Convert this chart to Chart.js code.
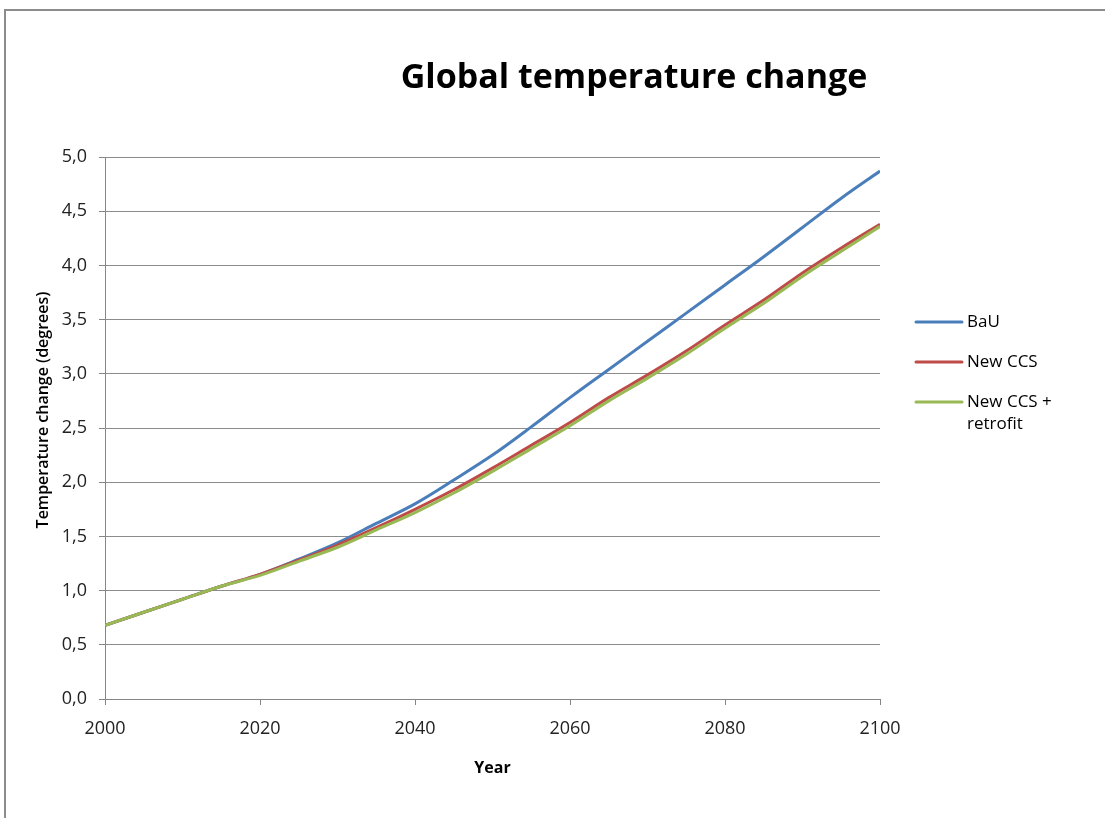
<!DOCTYPE html>
<html>
<head>
<meta charset="utf-8">
<script src="https://cdn.jsdelivr.net/npm/chart.js@4"></script>
<style>
  html, body { margin: 0; padding: 0; background: #fff; }
  #wrap { position: relative; width: 1105px; height: 818px; }
  #frame { position: absolute; left: 4px; top: 9px; right: -5px; bottom: -5px;
           border-left: 2px solid #8c8c8c; border-top: 2px solid #8c8c8c; }
  canvas { position: absolute; left: 0; top: 0; }
</style>
</head>
<body>
<div id="wrap">
  <div id="frame"></div>
  <canvas id="chart" width="1105" height="818"></canvas>
</div>
<script>
    // values, every 5 years
    const years = [2000, 2005, 2010, 2015, 2020, 2025, 2030, 2035, 2040, 2045, 2050,
                   2055, 2060, 2065, 2070, 2075, 2080, 2085, 2090, 2095, 2100];
    const bau = [0.68, 0.80, 0.92, 1.04, 1.15, 1.29, 1.44, 1.62, 1.80, 2.02, 2.25,
                 2.51, 2.78, 3.04, 3.30, 3.56, 3.82, 4.08, 4.35, 4.62, 4.87];
    const newCcs = [0.68, 0.80, 0.92, 1.04, 1.15, 1.28, 1.42, 1.58, 1.75, 1.93, 2.13,
                    2.34, 2.55, 2.78, 2.99, 3.21, 3.45, 3.68, 3.93, 4.16, 4.38];
    const newCcsRetrofit = [0.68, 0.80, 0.92, 1.04, 1.14, 1.27, 1.40, 1.56, 1.72, 1.90, 2.10,
                            2.31, 2.52, 2.75, 2.96, 3.18, 3.42, 3.65, 3.90, 4.13, 4.36];
    const seriesNames = ['BaU', 'New CCS', ['New CCS +', 'retrofit']];
    const seriesColors = ['#4a7ebb', '#be4b48', '#98b954'];
    const titleText = 'Global temperature change';
    const yTitleText = 'Temperature change (degrees)';

    const toPoints = vals => vals.map((v, i) => ({ x: years[i], y: v }));
    const fontFam = '"Open Sans", "DejaVu Sans", sans-serif';

    // title and y axis title placed like the original (both off-centre)
    const titlePlugin = {
        id: 'oddTitles',
        afterDraw(chart) {
            const ctx = chart.ctx;
            ctx.save();
            ctx.font = 'bold 34px ' + fontFam;
            ctx.fillStyle = '#000';
            ctx.textAlign = 'center';
            ctx.textBaseline = 'middle';
            ctx.fillText(titleText, 634, 78);
            ctx.translate(43, 410);
            ctx.rotate(-Math.PI / 2);
            ctx.font = '600 16px ' + fontFam;
            ctx.fillText(yTitleText, 0, 0);
            ctx.restore();
        }
    };

    // legend on the right, with a wrapped third label
    const legendPlugin = {
        id: 'sideLegend',
        afterDraw(chart) {
            const ctx = chart.ctx;
            const x0 = 916, rowY = [322, 362, 402];
            ctx.save();
            ctx.font = '17px ' + fontFam;
            ctx.textBaseline = 'middle';
            ctx.fillStyle = '#000';
            seriesNames.forEach((name, i) => {
                ctx.strokeStyle = seriesColors[i];
                ctx.lineWidth = 3;
                ctx.lineCap = 'round';
                ctx.beginPath();
                ctx.moveTo(x0, rowY[i]);
                ctx.lineTo(x0 + 46, rowY[i]);
                ctx.stroke();
                const lines = Array.isArray(name) ? name : [name];
                lines.forEach((t, j) => ctx.fillText(t, x0 + 51, rowY[i] + j * 22));
            });
            ctx.restore();
        }
    };

    const ctx = document.getElementById('chart').getContext('2d');
    const chart = new Chart(ctx, {
        type: 'line',
        data: {
            datasets: [
                { label: 'BaU', data: toPoints(bau), borderColor: seriesColors[0], order: 2 },
                { label: 'New CCS', data: toPoints(newCcs), borderColor: seriesColors[1], order: 1 },
                { label: 'New CCS + retrofit', data: toPoints(newCcsRetrofit), borderColor: seriesColors[2], order: 0 }
            ]
        },
        options: {
            responsive: false,
            animation: false,
            datasets: {
                line: { borderWidth: 3, pointRadius: 0, cubicInterpolationMode: 'monotone' }
            },
            layout: { padding: { top: 157, right: 225, left: 0, bottom: 0 } },
            scales: {
                x: {
                    type: 'linear',
                    min: 2000,
                    max: 2100,
                    afterFit(scale) { scale.height = 119; },
                    ticks: { stepSize: 20, color: '#222', padding: 13,
                             font: { family: fontFam, size: 18 },
                             callback: v => String(v) },
                    grid: { color: 'transparent', tickColor: '#868686', drawTicks: true, tickLength: 6 },
                    border: { color: '#868686', width: 1 },
                    title: { display: true, text: 'Year', color: '#000',
                             font: { family: fontFam, size: 16, weight: 'bold' },
                             padding: { top: 0, bottom: 40 } }
                },
                y: {
                    min: 0,
                    max: 5,
                    afterFit(scale) { scale.width = 105; },
                    ticks: { stepSize: 0.5, color: '#222', padding: 12,
                             font: { family: fontFam, size: 18 },
                             callback: v => v.toFixed(1).replace('.', ',') },
                    grid: { color: '#8c8c8c', tickColor: '#868686', tickLength: 6 },
                    border: { color: '#868686', width: 1 }
                }
            },
            plugins: {
                legend: { display: false },
                tooltip: { enabled: false }
            }
        },
        plugins: [titlePlugin, legendPlugin]
    });
</script>
</body>
</html>
